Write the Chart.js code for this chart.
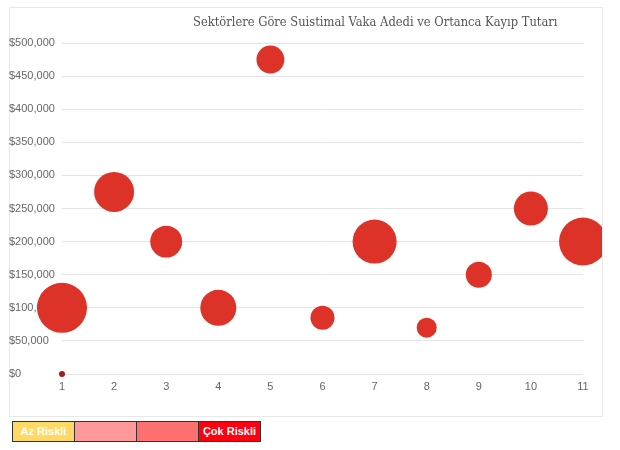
<!DOCTYPE html>
<html>
<head>
<meta charset="utf-8">
<script src="https://cdn.jsdelivr.net/npm/chart.js@4/dist/chart.umd.min.js"></script>
<style>
  body { margin: 0; background: #fff; }
  #box {
    position: absolute; left: 9px; top: 7px; width: 594px; height: 410px;
    border: 1px solid #e8e8e8; box-sizing: border-box;
  }
  #wrap { position: absolute; left: 9px; top: 7px; width: 593px; height: 409px; overflow: hidden; }
  #title {
    position: absolute; left: 193px; top: 14px; white-space: nowrap;
    font-family: "DejaVu Serif Condensed", "DejaVu Serif", serif; font-stretch: condensed;
    font-size: 12.8px; color: #555;
  }
  #legend { position: absolute; left: 12px; top: 421px; display: flex; }
  #legend div {
    width: 63px; height: 21px; box-sizing: border-box; border: 1px solid #333;
    font: bold 11px "Liberation Sans", Arial, sans-serif; color: #fff;
    line-height: 19px; text-align: center; margin-right: -1px;
  }
</style>
</head>
<body>
<div id="box"></div>
<div id="wrap"><canvas id="chart"></canvas></div>
<div id="title">Sektörlere Göre Suistimal Vaka Adedi ve Ortanca Kayıp Tutarı</div>
<div id="legend"></div>
<script>
const sektorNo = [1, 2, 3, 4, 5, 6, 7, 8, 9, 10, 11];
const ortancaKayip = [100000, 275000, 200000, 100000, 475000, 85000, 200000, 70000, 150000, 250000, 200000];
const vakaAdedi = [125, 80, 51, 65, 39, 29, 97, 20, 34, 58, 115];
const ekNokta = [{ x: 1, y: 0 }];
const riskEtiketleri = ["Az Riskli", "", "", "Çok Riskli"];
const riskRenkleri = ["#ffd966", "#ff9999", "#ff7070", "#ff0010"];

const maxVaka = Math.max(...vakaAdedi);

const legend = document.getElementById("legend");
riskEtiketleri.forEach((t, i) => {
  const d = document.createElement("div");
  d.innerText = t;
  d.style.background = riskRenkleri[i];
  legend.appendChild(d);
});

const points = sektorNo.map((x, i) => ({ x: x, y: ortancaKayip[i], r: 25 * Math.sqrt(vakaAdedi[i] / maxVaka) }));

const ctx = document.getElementById("chart");

new Chart(ctx, {
  type: "bubble",
  data: {
    datasets: [{
      label: "Ortanca Kayıp",
      data: points,
      backgroundColor: "#dd3228",
      borderColor: "#dd3228",
      borderWidth: 0
    }, {
      label: "ek",
      data: ekNokta,
      radius: 3,
      backgroundColor: "#a51c1c",
      borderWidth: 0
    }]
  },
  options: {
    responsive: true,
    maintainAspectRatio: false,
    animation: false,
    clip: false,
    layout: { autoPadding: false, padding: { top: 36, right: 19, left: 0, bottom: 0 } },
    plugins: { legend: { display: false }, tooltip: { enabled: false } },
    scales: {
      x: {
        type: "linear",
        min: 1, max: 11,
        grid: { display: false },
        border: { display: false },
        ticks: {
          stepSize: 1, padding: -2, color: "#666",
          font: { family: "Liberation Sans", size: 11 }
        },
        afterFit: s => { s.height = 42; }
      },
      y: {
        min: 0, max: 500000,
        grid: { color: "#e4e4e4", lineWidth: 1, drawTicks: false },
        border: { display: false },
        ticks: {
          stepSize: 50000, crossAlign: "far", padding: 7, color: "#666",
          font: { family: "Liberation Sans", size: 11 },
          callback: v => "$" + v.toLocaleString("en-US")
        },
        afterFit: s => { s.width = 53; }
      }
    }
  }
});
</script>
</body>
</html>
